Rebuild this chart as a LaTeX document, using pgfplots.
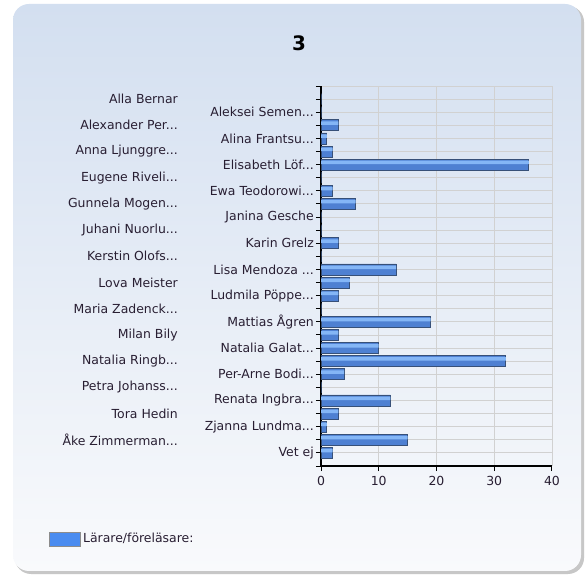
\documentclass[border=0pt]{standalone}
\usepackage{fontspec}
\setmainfont{DejaVu Sans}
\usepackage{pgfplots}
\pgfplotsset{compat=1.18}

\definecolor{bgtop}{RGB}{211,223,240}
\definecolor{bgbot}{RGB}{249,250,252}
\definecolor{barbody}{RGB}{78,128,210}
\definecolor{barhigh}{RGB}{132,182,246}
\definecolor{baredge}{RGB}{55,80,120}
\definecolor{legblue}{RGB}{74,140,240}
\definecolor{labtext}{RGB}{40,30,50}

% left-column labels sit further out
\newcommand{\lft}[1]{#1\hspace*{136bp}}
\newcommand{\el}{.{}.{}.}

\pgfplotstableread{
val pos
0 1
0 2
3 3
1 4
2 5
36 6
0 7
2 8
6 9
0 10
0 11
3 12
0 13
13 14
5 15
3 16
0 17
19 18
3 19
10 20
32 21
4 22
0 23
12 24
3 25
1 26
15 27
2 28
}\votes

\begin{document}
\begin{tikzpicture}
\fill[white] (0bp,0bp) rectangle (587bp,575bp);
\fill[black!22,rounded corners=16bp] (15bp,1bp) rectangle (584bp,569bp);
\shade[top color=bgtop,bottom color=bgbot,rounded corners=16bp] (13bp,4bp) rectangle (581bp,571bp);
\node[font=\bfseries\fontsize{20}{24}\selectfont,text=black] at (299bp,532bp) {3};

\begin{axis}[
    at={(321bp,109bp)}, anchor=south west,
    scale only axis,
    width=231bp, height=380bp,
    xbar,
    bar width=11bp,
    y dir=reverse,
    xmin=0, xmax=40,
    ymin=0, ymax=29,
    xtick={0,10,20,30,40},
    ytick={0,...,29},
    yticklabels={{},\lft{Alla Bernar},Aleksei Semen\el,\lft{Alexander Per\el},Alina Frantsu\el,\lft{Anna Ljunggre\el},Elisabeth Löf\el,\lft{Eugene Riveli\el},Ewa Teodorowi\el,\lft{Gunnela Mogen\el},Janina Gesche,\lft{Juhani Nuorlu\el},Karin Grelz,\lft{Kerstin Olofs\el},Lisa Mendoza \el,\lft{Lova Meister},Ludmila Pöppe\el,\lft{Maria Zadenck\el},Mattias Ågren,\lft{Milan Bily},Natalia Galat\el,\lft{Natalia Ringb\el},Per-Arne Bodi\el,\lft{Petra Johanss\el},Renata Ingbra\el,\lft{Tora Hedin},Zjanna Lundma\el,\lft{Åke Zimmerman\el},Vet ej,{}},
    axis x line*=bottom,
    axis y line*=left,
    axis line style={black,line width=1.1bp},
    tick align=outside,
    major tick length=5bp,
    tick style={black,line width=1bp},
    grid=major,
    major grid style={draw=black!18,line width=0.9bp},
    /pgf/number format/assume math mode=true,
    tick label style={font=\fontsize{12.5}{14}\selectfont,text=labtext},
    yticklabel style={inner xsep=2bp},
    xticklabel style={yshift=-2bp},
    legend style={at={(-1.19,-0.192)},anchor=west,draw=none,fill=none,
        font=\fontsize{12.5}{14}\selectfont,text=labtext},
    legend image code/.code={\draw[fill=legblue,draw=black!45,line width=0.8bp] (0bp,-7bp) rectangle (31bp,7bp);},
]
\addplot[fill=barbody,draw=baredge,line width=0.8bp] table[x=val,y=pos] {\votes};
\addlegendentry{Lärare/föreläsare:}
% lighter band along the upper part of each bar
\addplot[forget plot,fill=barhigh,draw=none,bar width=3.5bp,bar shift=2.2bp] table[x=val,y=pos] {\votes};
\end{axis}
\end{tikzpicture}
\end{document}
